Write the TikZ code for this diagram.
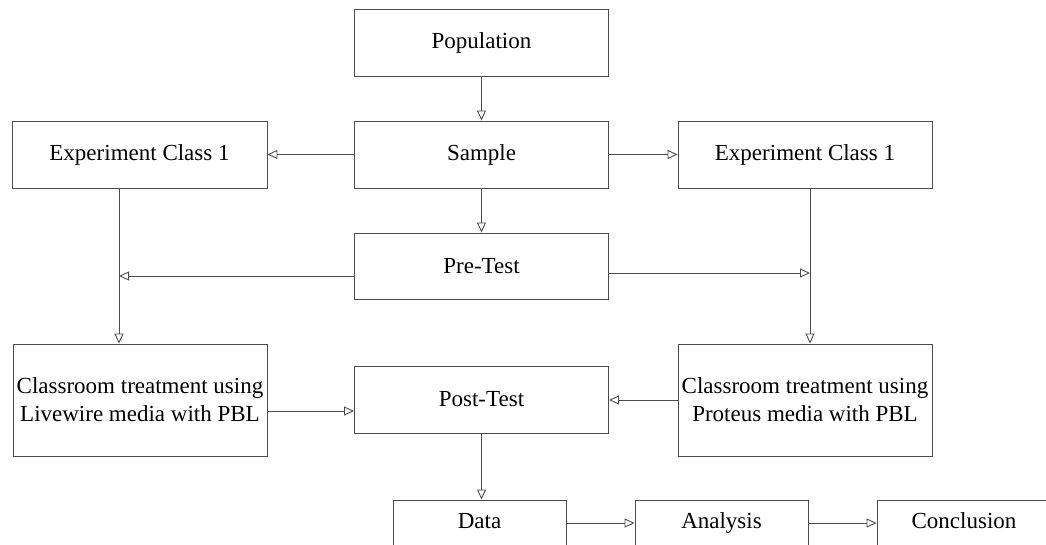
\documentclass[tikz,border=0pt]{standalone}
\usepackage{fontspec}
\setmainfont{Liberation Serif}
\usetikzlibrary{arrows.meta}

\begin{document}
\begin{tikzpicture}[x=1pt,y=1pt,
		box/.style={draw=black!70, line width=0.9pt, minimum width=254pt, minimum height=67pt, inner sep=0pt, align=center, font=\fontsize{23}{28}\selectfont},
		tall/.style={box, minimum height=112pt},
		small/.style={box, minimum width=173pt, minimum height=46pt, text height=16pt, text depth=5pt},
		arr/.style={-{Triangle[open,length=10pt,width=9pt]}, draw=black!70, line width=0.9pt}]
		  		\clip (0,0) rectangle (1046,544);
		  		\node[box] (P) at (481.5,501.5) {Population};
		  		\node[box] (S) at (481.5,389.5) {Sample};
		  		\node[box, minimum width=255pt] (E1) at (139.5,389.5) {Experiment Class 1};
		  		\node[box] (E2) at (805,389.5) {Experiment Class 1};
		  		\node[box, minimum height=66pt] (T0) at (481.5,278) {Pre-Test};
		  		
		  		\node[tall] (C1) at (140,144) {Classroom treatment using\\Livewire media with PBL};
		  		\node[box] (T1) at (481.5,144.5) {Post-Test};
		  		\node[tall] (C2) at (805,144) {Classroom treatment using\\Proteus media with PBL};
		  		
		  		\node[small] (D) at (479.5,21) {Data};
		  		\node[small] (A) at (721.5,21) {Analysis};
		  		\node[small, minimum width=174pt] (K) at (964,21) {Conclusion};
		  		
		  		\coordinate (e1) at ([xshift=-20.5pt]E1.south);
		  		\coordinate (e2) at ([xshift=5pt]E2.south);
		  		\coordinate (t0l) at ([yshift=-10pt]T0.west);
		  		\coordinate (t0r) at ([yshift=-7pt]T0.east);
		  		\coordinate (c1) at ([yshift=-11pt]C1.east);
		  		
		  		\draw[arr] (P) -- (S);
		  		\draw[arr] (S) -- (E1);
		  		\draw[arr] (S) -- (E2);
		  		\draw[arr] (S) -- (T0);
		  		\draw[arr] (e1) -- (e1 |- C1.north);
		  		\draw[arr] (e2) -- (e2 |- C2.north);
		  		\draw[arr] (t0l) -- (t0l -| e1);
		  		\draw[arr] (t0r) -- (t0r -| e2);
		  		\draw[arr] (c1) -- (c1 -| T1.west);
		  		\draw[arr] (C2.west) -- (C2.west -| T1.east);
		  		\draw[arr] (T1.south) -- (T1.south |- D.north);
		  		\draw[arr] (D) -- (A);
		  		\draw[arr] (A) -- (K);
		  	\end{tikzpicture}
\end{document}
